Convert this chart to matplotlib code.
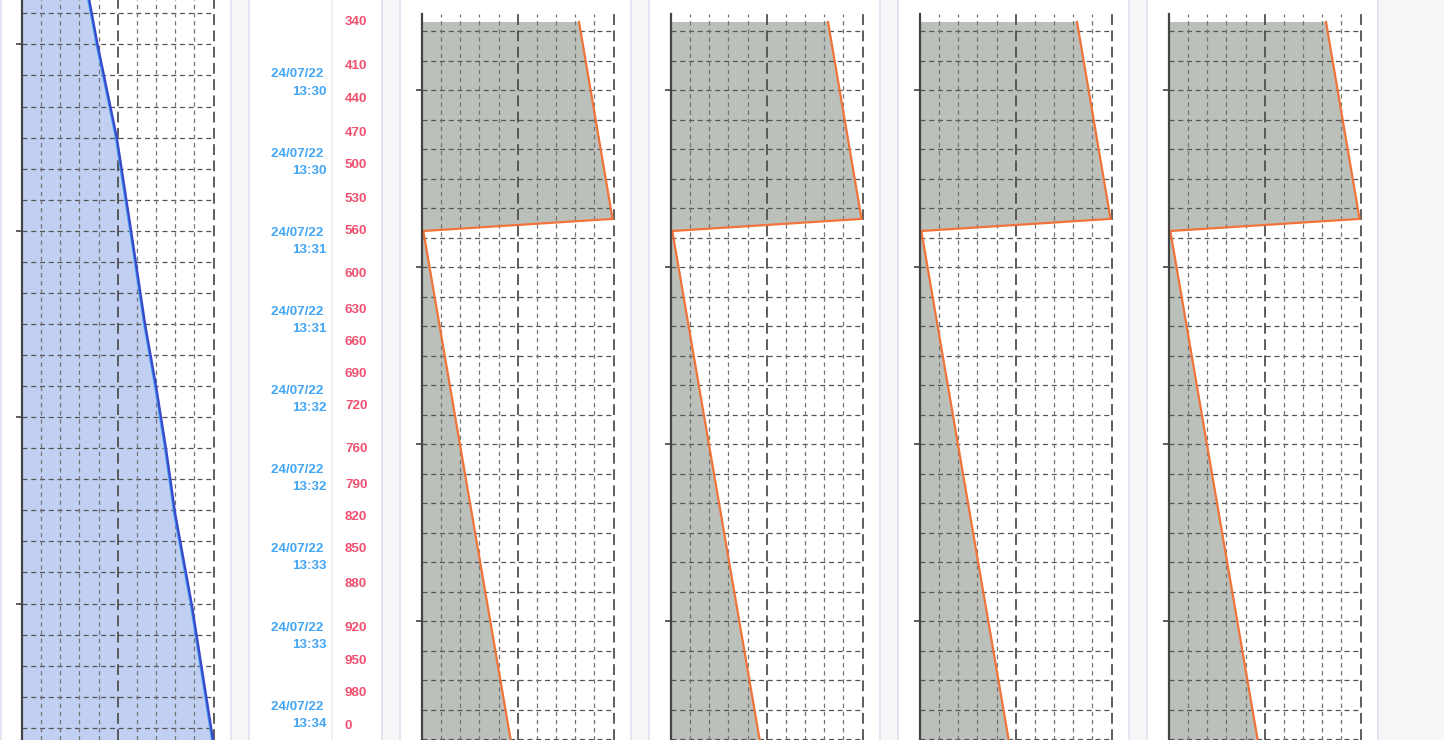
import matplotlib
matplotlib.use("Agg")
import matplotlib.pyplot as plt
import matplotlib.transforms as mtransforms
from matplotlib.patches import Rectangle
from matplotlib.lines import Line2D
import numpy as np

# ---------------- data ----------------
# track 1 (blue): depth (m) and value (% of track width)
blue_depth = [330, 390, 475, 560, 645, 701, 759, 817, 900, 1023, 1030]
blue_val_a = [33.0, 39.4, 49.5, 57.0, 64.3, 70.0, 75.3, 80.0, 88.7, 99.8, 100.0]
blue_val_b = [32.5, 38.9, 49.0, 56.5, 63.8, 69.5, 74.8, 79.5, 88.2, 99.3, 99.6]

# tracks 3-6 (orange): identical curves
orange_depth = [370, 549, 560, 1050]
orange_val = [82.0, 99.5, 0.7, 49.0]

# depth labels column
depth_labels = ["340", "410", "440", "470", "500", "530", "560", "600", "630", "660",
                "690", "720", "760", "790", "820", "850", "880", "920", "950", "980", "0"]
depth_label_pos = [370, 410, 440, 471, 500, 531, 560, 599, 632, 661,
                   690, 719, 758, 791, 820, 849, 881, 920.5, 951, 980, 1010]

# time labels column
time_labels = ["24/07/22 \n13:30", "24/07/22 \n13:30", "24/07/22 \n13:31",
               "24/07/22 \n13:31", "24/07/22 \n13:32", "24/07/22 \n13:32",
               "24/07/22 \n13:33", "24/07/22 \n13:33", "24/07/22 \n13:34"]
time_label_pos = [425.5, 497.5, 569.5, 641.5, 713, 785, 857, 928.5, 1000.5]

# ---------------- layout ----------------
W, H = 1444, 740
fig = plt.figure(figsize=(W / 100, H / 100), dpi=100)
fig.patch.set_facecolor("#f6f6f8")

D_TOP, D_BOT = 350.0, 1022.7          # depth at figure top / bottom
PX_PER_M = 1.1


def rect_px(x0, y0, w, h):
    return [x0 / W, 1 - (y0 + h) / H, w / W, h / H]


def card(x0, w):
    r = Rectangle((x0 / W, -0.05), w / W, 1.1, transform=fig.transFigure,
                  facecolor="white", edgecolor="#dde3f1", linewidth=1.2, zorder=0)
    fig.add_artist(r)


card(0.5, 230)
card(249, 132.5)
for k in range(4):
    card(400 + 249 * k, 230.5)

FONT = ["Liberation Sans", "DejaVu Sans"]


def track(x0, top_px, grid_start, grid_step, major_offset, fill_color, data_sets, fill_idx):
    top_d = D_TOP + top_px / PX_PER_M
    ax = fig.add_axes(rect_px(x0, top_px, 191.5, H - top_px))
    ax.set_facecolor("none")
    ax.set_xlim(0, 100)
    ax.set_ylim(D_BOT, top_d)
    for s in ["top", "right", "bottom"]:
        ax.spines[s].set_visible(False)
    ax.spines["left"].set_color("#444444")
    ax.spines["left"].set_linewidth(1.6)
    ax.spines["left"].set_zorder(5)
    # grid
    minor = np.arange(grid_start, D_BOT + 1, grid_step)
    major = minor[major_offset::6]
    for yv in minor:
        ax.axhline(yv, color="#555555", lw=0.9, dashes=(4, 3), zorder=2)
    for xv in range(10, 100, 10):
        if xv == 50:
            ax.axvline(xv, color="#505050", lw=1.3, dashes=(6, 3), zorder=2)
        else:
            ax.axvline(xv, color="#747474", lw=0.9, dashes=(3.5, 3), zorder=2)
    ax.axvline(100, color="#505050", lw=1.3, dashes=(6, 3), zorder=2, clip_on=False)
    ax.set_yticks(major)
    ax.set_yticklabels([])
    ax.set_xticks([])
    ax.tick_params(axis="y", length=4.5, width=1.1, color="#333333")
    # data
    d, v, c, lw = data_sets[fill_idx]
    ax.fill_betweenx(d, 0, v, color=fill_color, lw=0, zorder=1)
    for d, v, c, lw in data_sets:
        ax.plot(v, d, color=c, lw=lw, zorder=3, solid_joinstyle="miter")
    return ax


# track 1 (blue)
track(22, 0, 362.1, 28.24, 1, "#c1cff3",
      [(blue_depth, blue_val_b, "#42a5f5", 1.6),
       (blue_depth, blue_val_a, "#3b4acb", 1.7)], 1)

# tracks 3-6 (orange)
for k in range(4):
    track(422 + 249 * k, 14, 378.5, 26.82, 2, "#bcc0bb",
          [(orange_depth, orange_val, "#f2733a", 1.6)], 0)

# labels column
axl = fig.add_axes(rect_px(249, 0, 132.5, H))
axl.set_facecolor("none")
axl.axis("off")
axl.set_xlim(0, 1)
axl.set_ylim(D_BOT, D_TOP)
axl.add_line(Line2D([0.624, 0.624], [0, 1], transform=axl.transAxes,
                    color="#eeeef2", lw=1.2))
tr = mtransforms.blended_transform_factory(axl.transAxes, axl.transData)
for txt, pos in zip(time_labels, time_label_pos):
    axl.text(0.588, pos, txt, transform=tr, ha="right", va="center",
             multialignment="right", color="#42a5f5", fontsize=9.6,
             fontweight="bold", family=FONT, linespacing=1.6)
for txt, pos in zip(depth_labels, depth_label_pos):
    axl.text(0.7245, pos, txt, transform=tr, ha="left", va="center",
             color="#f0506e", fontsize=9.6, fontweight="bold", family=FONT)

fig.savefig("out.png", dpi=100, facecolor=fig.get_facecolor())
